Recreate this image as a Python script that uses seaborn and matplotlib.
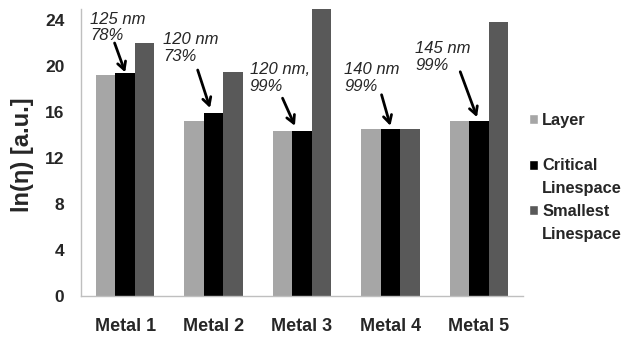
import numpy as np
import pandas as pd
import matplotlib
matplotlib.use('Agg')
import matplotlib.pyplot as plt
import seaborn as sns
from matplotlib.patches import Patch

# Data
metals = ['Metal 1', 'Metal 2', 'Metal 3', 'Metal 4', 'Metal 5']
layer = [19.2, 15.25, 14.35, 14.5, 15.25]
critical = [19.36, 15.88, 14.35, 14.5, 15.25]
smallest = [22.03, 19.48, 25.0, 14.5, 23.86]
series_names = ['Layer', 'Critical Linespace', 'Smallest Linespace']
series_colors = ['#a6a6a6', '#000000', '#595959']

# annotation text, text anchor (left, middle) and arrow from/to in data coords
notes = ['125 nm\n78%', '120 nm\n73%', '120 nm,\n99%', '140 nm\n99%', '145 nm\n99%']
note_x = [-0.40, 0.428, 1.41, 2.475, 3.278]
note_y = [23.35, 21.57, 18.96, 18.96, 20.78]
arrow_from = [(-0.12, 22.0), (0.82, 19.65), (1.78, 17.2), (2.9, 17.5), (3.79, 19.5)]
arrow_to = [(0.0, 19.45), (0.96, 16.35), (1.92, 14.8), (3.0, 14.8), (3.98, 15.55)]

sns.set_style('white')
plt.rcParams['font.family'] = ['Liberation Sans', 'DejaVu Sans']

df = pd.DataFrame({
    'metal': metals * 3,
    'value': layer + critical + smallest,
    'series': [series_names[0]] * 5 + [series_names[1]] * 5 + [series_names[2]] * 5,
})

fig = plt.figure(figsize=(6.26, 3.39), dpi=100)
ax = fig.add_axes([81 / 626, 43 / 339, 442 / 626, (296 - 8.5) / 339])

sns.barplot(data=df, x='metal', y='value', hue='series', hue_order=series_names,
            palette=series_colors, width=0.66, saturation=1, legend=False,
            linewidth=0, ax=ax)

axis_gray = '#bfbfbf'
ax.set_xlim(-0.5, 4.5)
ax.set_ylim(0, 25)
ax.set_yticks(np.arange(0, 25, 4))
ax.set_xticks(np.arange(-0.5, 5), minor=True)
ax.tick_params(axis='x', which='major', length=0, pad=16, labelsize=13)
ax.tick_params(axis='x', which='minor', length=5, color=axis_gray, direction='out')
ax.tick_params(axis='y', length=4, color=axis_gray, direction='in', pad=12, labelsize=12.5)
for lab in ax.get_xticklabels() + ax.get_yticklabels():
    lab.set_fontweight('bold')
for side in ['top', 'right']:
    ax.spines[side].set_visible(False)
for side in ['left', 'bottom']:
    ax.spines[side].set_color(axis_gray)
    ax.spines[side].set_linewidth(1)

ax.set_xlabel('')
ax.set_ylabel('ln(η) [a.u.]', fontsize=17, fontweight='bold')
ax.yaxis.set_label_coords(-0.107, 0.49)

for txt, tx, ty, (x0, y0), (x1, y1) in zip(notes, note_x, note_y, arrow_from, arrow_to):
    ax.text(tx, ty, txt, fontsize=12, style='italic', ha='left', va='center',
            linespacing=1.15)
    ax.annotate('', xy=(x1, y1), xytext=(x0, y0),
                arrowprops=dict(arrowstyle='->,head_length=0.55,head_width=0.3',
                                color='black', lw=2, shrinkA=0, shrinkB=0))

# legend: marker on the first line of each entry
invisible = Patch(facecolor='none', edgecolor='none')
handles = [Patch(facecolor=series_colors[0]), invisible,
           Patch(facecolor=series_colors[1]), invisible,
           Patch(facecolor=series_colors[2]), invisible]
labels = ['Layer', ' ', 'Critical', 'Linespace', 'Smallest', 'Linespace']
leg = fig.legend(handles, labels, loc='upper left', bbox_to_anchor=(529 / 626, 1 - 113 / 339),
                 frameon=False, borderpad=0, borderaxespad=0, handlelength=0.55,
                 handleheight=0.55, handletextpad=0.25, labelspacing=0.47,
                 prop={'size': 11.8, 'weight': 'bold'})

fig.savefig('out.png', dpi=100)
